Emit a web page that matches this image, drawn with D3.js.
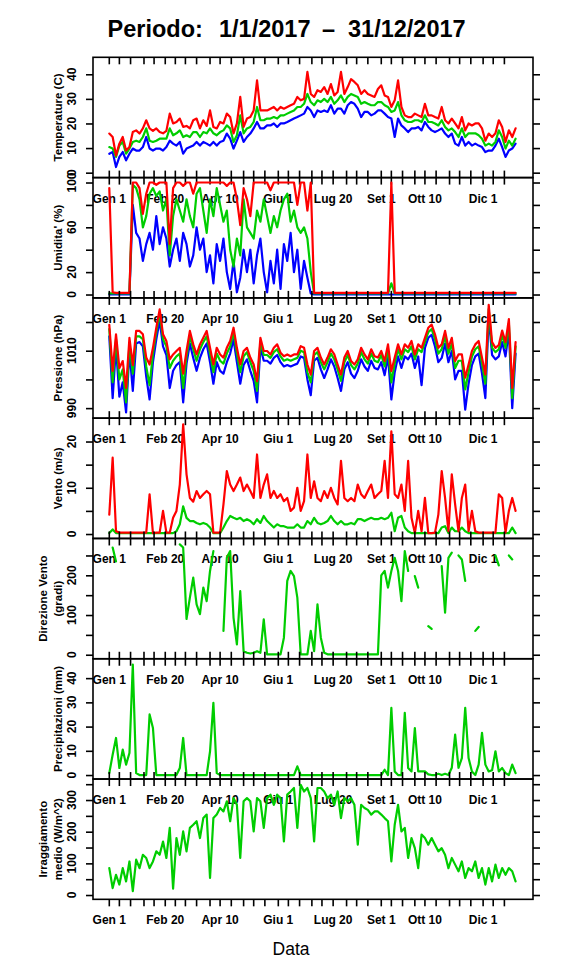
<!DOCTYPE html>
<html><head><meta charset="utf-8">
<script src="https://cdn.jsdelivr.net/npm/d3@7"></script>
<style>
body{margin:0;background:#fff}
svg{display:block}
text{font-family:"Liberation Sans",Arial,Helvetica,sans-serif}
</style>
</head><body>
<svg id="c" width="576" height="972"></svg>
<script>
// ---------- DATA (one value every 3 days starting 1 Jan 2017) ----------
const startDate = [2017, 0, 1];
const stepDays = 3;

const tempMax = [15.9,14.5,7,11.8,14.5,9,10.4,16.5,17.2,15.9,
 18,21.3,18,17,18,16.5,16,17,24,20,
 20.6,22,18.6,19,18,21.3,22,18,21.3,19,
 25.3,18.6,18,20.6,20,24,22.6,16,20,30.8,
 18.6,22,22.6,25.3,37.5,25.3,25.3,25.3,26,26.7,
 25.3,26.7,26,26.7,27.4,28,30.8,29.4,30,41,
 32,30.8,33.5,32.8,34.8,32,36,31.4,32.8,41,
 32,34.8,38,36.9,35.5,32,33.5,32,31.4,30.8,
 34,35.5,31.4,30.8,26.7,29.4,37.5,26.7,23.3,22.6,
 22.6,24,23.3,22.6,28,23.3,23.3,22.6,22,26.7,
 21.3,20,22,20,18,22.6,17.2,20,19.2,20,
 20,18,13,15.9,14.5,16,21.3,18.6,12.5,17.2,
 14.5,18];
const tempMean = [10.4,9.8,6.4,11,12.5,7.7,9.8,12.5,13,12.5,
 14.5,18,13,12.5,13,13.8,13.8,13.8,18,15.2,
 16,17.2,14.5,15.2,14.5,16.5,16.5,14.5,16.5,16,
 18,16,15.2,16.5,17.2,19.2,18,12.5,15.2,23.3,
 16,18,18.6,20.6,26.7,21.3,21.3,22,22,22.6,
 22,23.3,23.3,24,24.7,25.3,26.7,26.7,28,32,
 28.7,27.4,29.4,28.7,30,28.7,30.8,28,29.4,31.4,
 28.7,30.8,32,31.4,30.8,28,28.7,28,27.4,27.4,
 28.7,28.7,27.4,26.7,24.7,25.3,28.7,23.3,21.3,20.6,
 20.6,21.3,21.3,20.6,23.3,20.6,20.6,20,19.2,21.3,
 18.6,17.2,18,16.5,14.5,18,14.5,16,16,16,
 15.2,13.8,11,11.8,11,12.5,17.2,14.5,9.8,13,
 11,13.8];
const tempMin = [7.7,8.4,2.3,6.4,8.4,5,7.7,9.8,9,9,
 10.4,14.5,9.8,9,9.8,9.8,9,10.4,13,11.8,
 11,12.5,7.7,9.8,10.4,11,12.5,11,12.5,11.8,
 11,12.5,11,12.5,13,15.9,13.8,9.8,13,16.5,
 12.5,14.5,15.9,18,20.6,18,18,19.2,19.2,20,
 18.6,20,20,20.6,21.3,22,22.6,23.3,24,26.7,
 25.3,22.6,25.3,24.7,25.3,24.7,27.4,24,26,26,
 24,27.4,28.7,28,26,22.6,24.7,24.7,23.3,24,
 25.3,25.3,24,22.6,22,14.5,22,19.2,18,16.5,
 18,18,18.6,17.2,20.6,18.6,17.2,16.5,17.2,18,
 15.9,14.5,15.9,11.8,11,14.5,11,12.5,11,11.8,
 11,10.4,8.4,9,9,11,13.8,10.4,6.4,9,
 9.8,11.8];

const humMax = [95,2,1.5,1.5,1.5,1.5,1.5,100,100,95,
 72,90,100,100,98,100,100,100,45,95,
 100,100,97,100,100,90,100,100,100,100,
 100,100,100,100,100,97,100,100,85,62,
 95,85,70,100,100,100,100,100,93,100,
 100,100,100,100,100,100,80,100,100,75,
 100,1.5,1.5,1.5,1.5,1.5,1.5,1.5,1.5,1.5,
 1.5,1.5,1.5,1.5,1.5,1.5,1.5,1.5,1.5,1.5,
 1.5,1.5,1.5,1.5,100,1.5,1.5,1.5,1.5,1.5,
 1.5,1.5,1.5,1.5,1.5,1.5,1.5,1.5,1.5,1.5,
 1.5,1.5,1.5,1.5,1.5,1.5,1.5,1.5,1.5,1.5,
 1.5,1.5,1.5,1.5,1.5,1.5,1.5,1.5,1.5,1.5,
 1.5,1.5];
const humMean = [1,1,1,1,1,1,1,98,95,85,
 60,70,90,95,88,92,75,85,35,70,
 85,75,65,85,70,60,90,95,75,55,
 85,70,95,80,65,75,40,25,50,35,
 85,60,55,50,75,65,85,70,55,70,
 60,75,85,90,65,75,60,55,60,50,
 20,1,1,1,1,1,1,1,1,1,
 1,1,1,1,1,1,1,1,1,1,
 1,1,1,1,10,1,1,1,1,1,
 1,1,1,1,1,1,1,1,1,1,
 1,1,1,1,1,1,1,1,1,1,
 1,1,1,1,1,1,1,1,1,1,
 1,1];
const humMin = [0,0,0,0,0,0,0,80,55,50,
 30,45,55,40,70,45,60,50,25,40,
 50,30,55,45,25,35,60,40,50,20,
 35,10,45,30,50,20,5,30,2,15,
 40,20,40,10,35,50,20,2,30,10,
 40,5,45,30,55,20,40,5,30,15,
 1,0,0,0,0,0,0,0,0,0,
 0,0,0,0,0,0,0,0,0,0,
 0,0,0,0,0,0,0,0,0,0,
 0,0,0,0,0,0,0,0,0,0,
 0,0,0,0,0,0,0,0,0,0,
 0,0,0,0,0,0,0,0,0,0,
 0,0];

const presMax = [1019,1003,1015.7,1004,1006.4,997,1014.5,1005,1016.9,1016.9,
 1015.7,1007.6,1005.2,1011,1018,1024.4,1015.7,1013.4,1007,1008.7,
 1009.9,1011,1002,1009.9,1016.9,1012.2,1008.7,1012.2,1014.5,1016.9,
 1011,1005.2,1011,1008.7,1007.6,1011,1013.4,1018,1011,1005.2,
 1009.9,1011,1007.6,1005.2,999.4,1014.5,1009.9,1009.9,1008.7,1011,
 1012.2,1009.3,1008.1,1008.7,1008.1,1008.7,1008.7,1011.6,1011,1005.2,
 1001.7,1009.9,1011,1007.6,1005.2,1007.6,1010.5,1008.7,1005.2,1001.7,
 1007.6,1009.9,1006.4,1005.2,1007,1011,1008.7,1007,1010.5,1008.1,
 1007.6,1009.9,1006.4,1012.2,1002.9,1007.6,1012.2,1008.7,1012.2,1011,
 1013.4,1008.7,1012.2,1011,1014.5,1018,1019.1,1015.7,1011,1012.2,
 1016.9,1011,1014.5,1006.4,1008.7,1008.7,1000.6,1005.2,1009.9,1012.2,
 1013.4,1007.6,1001.7,1026,1013,1011,1012,1017,1013,1021,
 997,1013];
const presMean = [1017.5,999,1014,1000,1003.5,992,1012.5,1002,1015,1015,
 1014,1004.5,998,1009,1016.5,1023,1014,1011.5,1004,1006.5,
 1008,1009,997,1008,1015,1010.5,1006.5,1010.5,1013,1015,
 1009,1002.5,1009,1006.5,1005.5,1009,1011.5,1016.5,1009,1002.5,
 1008,1009.5,1006,1003,996,1013,1008.5,1008.5,1007.5,1009.5,
 1010.5,1008,1006.5,1007,1006.5,1007,1007.5,1010,1009.5,1002.5,
 999,1008.5,1009.5,1006,1003.5,1006,1009,1007,1003.5,999.5,
 1006,1008.5,1005,1003.5,1005.5,1009.5,1007,1005.5,1009,1006.5,
 1006,1008.5,1004.5,1010.5,999,1005.5,1010.5,1007,1010.5,1009.5,
 1011.5,1007,1010.5,1009.5,1013,1016.5,1017.5,1014,1009,1010.5,
 1015,1009,1012.5,1004,1006.5,1006.5,996.5,1002.5,1008,1010.5,
 1011.5,1005.5,998.5,1024.5,1011,1009.5,1010.5,1015.5,1011,1019.5,
 993.5,1011.5];
const presMin = [1015,993.5,1011.5,994,999,988.5,1010,996,1012.5,1013,
 1011.5,1001,993,1006,1014,1020.5,1011.5,1008.5,997,1003,
 1005,1006,992,1005.5,1012.5,1007.5,1003,1007.5,1010.5,1012.5,
 1006,998.5,1006,1003,1002,1006,1009,1014,1006,998.5,
 1005,1007,1003,999.5,992,1011,1006.5,1006.5,1005.5,1007.5,
 1008.5,1006,1004.5,1005,1004.5,1005,1005.5,1008,1007.5,1000,
 994.5,1006.5,1007.5,1003.5,1000.5,1003.5,1007,1004.5,1000.5,996,
 1003.5,1006,1002,1000.5,1003,1007,1004.5,1003,1006.5,1004,
 1003.5,1006,1001.5,1008,993,1002.5,1008,1004,1008,1007,
 1009,1004,1008,998,1011,1014.5,1015.5,1011.5,1006,1007.5,
 1012.5,1006,1010,1000,1003,1003,989.5,998.5,1005,1008,
 1009,1002,993.5,1022,1008.5,1007,1008,1013,1008,1017,
 990,1009];

const windMax = [4.2,16.5,0.6,0.3,0.3,0.3,0.3,0.3,0.3,0.3,
 0.3,0.3,8.6,0.2,0.3,0.3,5,0.3,0.3,3.5,
 5,10.7,23.7,12.9,7.8,7,9.3,7.8,8.6,9.3,
 8.6,0.3,0.3,0.3,6.4,13.6,10.7,9.3,10.7,12.2,
 9.3,10.7,9.3,7.8,17.2,7.8,10.7,12.9,7.8,9.3,
 7.8,8.6,7.1,7.8,5,5.7,10,5,7.1,17.2,
 7.8,11.4,7.8,7.1,9.3,7.8,10,7.8,6.4,15.8,
 7.8,7.1,7.8,7.1,10.7,8.6,7.8,9.3,10.7,7.8,
 8.6,9.3,15.8,7.8,22.2,8.6,7.8,10.7,5,15.8,
 3.5,0.2,5,0.6,7.8,0.2,0.2,0.3,4.2,13.6,
 7.8,0.6,12.9,6.4,0.6,7.8,10.7,0.6,5,0.6,
 0.3,0.3,0.3,0.3,0.3,0.3,8.6,7.8,0.3,5,
 7.8,5];
const windMean = [0.2,1,0.2,0.2,0.2,0.2,0.2,0.2,0.2,0.2,
 0.2,0.2,0.2,0.2,0.2,0.2,0.2,0.2,0.2,0.2,
 0.6,2.1,6,3.5,2.8,2.8,2.4,2.1,2.4,2.1,
 1.4,0.2,0.2,0.2,1.4,2.8,3.9,3.5,3.2,3.5,
 2.8,3.2,2.8,2.1,3.2,2.4,3.9,2.8,2.1,1.4,
 2.1,1.7,1.7,1.4,1.4,1.4,2.1,1.4,1.4,2.8,
 2.1,3.5,2.4,2.1,2.4,2.8,3.9,2.8,2.1,2.8,
 2.1,2.1,2.4,2.1,3.2,3.2,2.8,3.2,3.5,3.2,
 3.2,3.5,3.2,3.5,4.6,0.6,3.5,3.9,1.4,0.6,
 0.2,0.2,0.2,0.2,0.2,0.2,0.2,0.2,0.2,1.4,
 1.7,0.2,1.4,0.6,0.6,1.4,0.6,0.2,0.2,0.2,
 0.2,0.2,0.2,0.2,0.2,0.2,0.2,0.2,0.2,0.2,
 1.4,0.2];

const windDir = [null,270,235,null,null,null,null,null,null,null,
 null,null,null,null,null,null,null,null,null,null,
 null,278,270,90,144,194,127,102,169,135,
 211,261,null,null,60,244,261,93,26,160,
 9,5,3,5,9,5,89,1,1,1,
 1,1,43,186,211,198,144,1,1,1,
 60,9,127,43,5,1,1,1,1,1,
 1,1,1,1,1,1,1,1,1,1,
 1,200,211,169,211,244,211,135,261,211,
 null,198,169,null,null,72,65,null,null,223,
 106,244,257,null,250,240,186,null,null,60,
 70,null,null,null,null,250,225,null,null,250,
 240,null];

const precip = [0.8,8.4,15.3,2.9,10.5,4.3,9.1,45.6,0.8,0,
 0,0,25,19.4,0,0,0,0,0,0,
 0,2.9,15.3,0,0,0,0,0,0,0,
 9.8,29.8,0.8,0,0,0,0,0,0,0,
 0,0,0,0,0,0,0,0,0,0,
 0,0,0,0,0,0,3.6,0,0,0,
 0,0,0,0,0,0,0,0,0,0,
 0,0,0,0,0,0,0,0,0,0,
 0,0,2.2,0,27.7,1.5,0,0,25.7,2.9,
 1.5,19.4,1.5,1.5,1.5,0.3,0,0,0.5,0,
 0.5,0,3,16.7,3,7,27.7,7,1.5,0,
 4.3,17.4,4.3,1.5,2,9.8,1.5,2.9,0.8,0,
 4.3,0.8];

const irrad = [85,22,64,33,85,43,106,12,112,85,
 127,117,85,106,138,127,169,117,212,20,
 180,127,201,138,212,222,233,180,243,254,
 54,243,254,275,264,296,233,306,285,117,
 296,306,296,201,306,296,212,306,317,285,
 317,306,169,317,327,338,212,348,327,338,
 306,169,338,338,327,306,317,285,327,243,
 306,296,306,285,159,285,275,269,254,264,
 264,254,243,233,106,222,285,201,212,117,
 180,148,85,191,180,159,180,159,138,148,
 127,85,117,96,75,106,54,85,75,106,
 54,85,33,85,43,96,54,85,64,85,
 75,43];

// axis labels / tick labels
const monthNames = ["Gen","Feb","Mar","Apr","Mag","Giu","Lug","Ago","Set","Ott","Nov","Dic"];
const tickDaysOfMonth = [1, 10, 20];
const xLabels = [["Gen",1],["Feb",20],["Apr",10],["Giu",1],["Lug",20],["Set",1],["Ott",10],["Dic",1]];
const titleParts = ["Periodo:", "1/1/2017", "\u2013", "31/12/2017"];
const xTitle = "Data";

const C_RED = "#ff0000", C_GREEN = "#00cd00", C_BLUE = "#0000ff";

// ---------- LAYOUT ----------
const svg = d3.select("#c");
const DAY = 864e5;
const t0 = Date.UTC(startDate[0], startDate[1], startDate[2]);
const dates = tempMax.map((_, i) => new Date(t0 + i * stepDays * DAY));
const tEnd = Date.UTC(2017, 11, 31);
const pad = (tEnd - t0) * 0.04;
const x = d3.scaleUtc().domain([new Date(t0 - pad), new Date(tEnd + pad)]).range([93, 533]);

const plotTop = 57.3, plotH = 120.29, L = 93, R = 533;

const panels = [
  {title:["Temperature (C)"], dom:[-2.0,46.9], ticks:[0,10,20,30,40], labels:[0,10,20,30,40],
   series:[[tempMin,C_BLUE],[tempMean,C_GREEN],[tempMax,C_RED]]},
  {title:["Umidita' (%)"], dom:[-3.0,104.4], ticks:[0,20,40,60,80,100], labels:[0,20,60,100],
   series:[[humMin,C_BLUE],[humMean,C_GREEN],[humMax,C_RED]]},
  {title:["Pressione (hPa)"], dom:[986.5,1028.4], ticks:[990,1000,1010,1020], labels:[990,1010],
   series:[[presMin,C_BLUE],[presMean,C_GREEN],[presMax,C_RED]]},
  {title:["Vento (m/s)"], dom:[-0.96,25.05], ticks:[0,5,10,15,20], labels:[0,10,20],
   series:[[windMean,C_GREEN],[windMax,C_RED]]},
  {title:["Direzione Vento","(gradi)"], dom:[-10.1,292.8], ticks:[0,50,100,150,200,250], labels:[0,100,200],
   series:[[windDir,C_GREEN]]},
  {title:["Precipitazioni (mm)"], dom:[-1.65,48], ticks:[0,10,20,30,40], labels:[0,10,20,30,40],
   series:[[precip,C_GREEN]]},
  {title:["Irraggiamento","medio (W/m^2)"], dom:[-13.6,366.3], ticks:[0,50,100,150,200,250,300,350], labels:[0,100,200,300],
   series:[[irrad,C_GREEN]]}
];

const xTicks = [];
for (let m = 0; m < 12; m++) for (const d of tickDaysOfMonth) xTicks.push(new Date(Date.UTC(2017, m, d)));
const xLab = xLabels.map(([mn, d]) => ({date: new Date(Date.UTC(2017, monthNames.indexOf(mn), d)), text: mn + " " + d}));

// title
const titleX = [107.5, 219, 322, 348];
svg.selectAll("text.title").data(titleParts).join("text")
  .attr("class","title").attr("x",(d,i)=>titleX[i]).attr("y",36.7)
  .attr("font-size",23.5).attr("font-weight","bold").text(d=>d);

panels.forEach((p, i) => {
  const top = plotTop + i * plotH, bot = top + plotH;
  const y = d3.scaleLinear().domain(p.dom).range([bot, top]);
  const g = svg.append("g");
  const clipId = "clip" + i;
  svg.append("clipPath").attr("id", clipId).append("rect")
    .attr("x", L).attr("y", top).attr("width", R - L).attr("height", plotH);

  // series
  const lg = g.append("g").attr("clip-path", `url(#${clipId})`);
  p.series.forEach(([vals, col]) => {
    const line = d3.line().defined(d => d != null)
      .x((d, k) => x(dates[k])).y(d => y(d));
    lg.append("path").attr("d", line(vals)).attr("fill","none")
      .attr("stroke", col).attr("stroke-width", 2.2).attr("stroke-linejoin","round").attr("stroke-linecap","round");
  });

  // box
  g.append("rect").attr("x", L).attr("y", top).attr("width", R - L).attr("height", plotH)
    .attr("fill","none").attr("stroke","#000").attr("stroke-width",1.6);

  // left axis
  const ax = g.append("g").attr("transform", `translate(${L},0)`)
    .call(d3.axisLeft(y).tickValues(p.ticks).tickSize(7).tickFormat(""));
  ax.select(".domain").remove();
  ax.selectAll("line").attr("stroke-width",1.6);
  // right axis
  const ar = g.append("g").attr("transform", `translate(${R},0)`)
    .call(d3.axisRight(y).tickValues(p.ticks).tickSize(7).tickFormat(""));
  ar.select(".domain").remove();
  ar.selectAll("line").attr("stroke-width",1.6);

  // y tick labels (rotated)
  g.selectAll("text.yl").data(p.labels).join("text").attr("class","yl")
    .attr("transform", d => `translate(76,${y(d)}) rotate(-90)`)
    .attr("text-anchor","middle").attr("font-size",12).attr("font-weight","bold")
    .text(d => d);

  // y title
  const cy = (top + bot) / 2;
  const tx = p.title.length === 1 ? [62] : [47, 62];
  p.title.forEach((t, j) => {
    g.append("text").attr("transform", `translate(${tx[j]},${cy}) rotate(-90)`)
      .attr("text-anchor","middle").attr("font-size",11.5).attr("font-weight","bold").text(t);
  });

  // x ticks at bottom
  const last = i === panels.length - 1;
  g.selectAll("line.xt").data(xTicks).join("line").attr("class","xt")
    .attr("x1", d => x(d)).attr("x2", d => x(d))
    .attr("y1", last ? bot : bot - 7).attr("y2", bot + 7)
    .attr("stroke","#000").attr("stroke-width",1.6);
  if (i === 0) {
    g.selectAll("line.xtt").data(xTicks).join("line").attr("class","xtt")
      .attr("x1", d => x(d)).attr("x2", d => x(d))
      .attr("y1", top).attr("y2", top + 7)
      .attr("stroke","#000").attr("stroke-width",1.6);
  }
  // x labels under the panel
  g.selectAll("text.xl").data(xLab).join("text").attr("class","xl")
    .attr("x", d => x(d.date)).attr("y", bot + 25)
    .attr("text-anchor","middle").attr("font-size",12).attr("font-weight","bold")
    .text(d => d.text);
});

svg.append("text").attr("x", 291).attr("y", 955).attr("text-anchor","middle")
  .attr("font-size",17.5).text(xTitle);
</script>
</body></html>
